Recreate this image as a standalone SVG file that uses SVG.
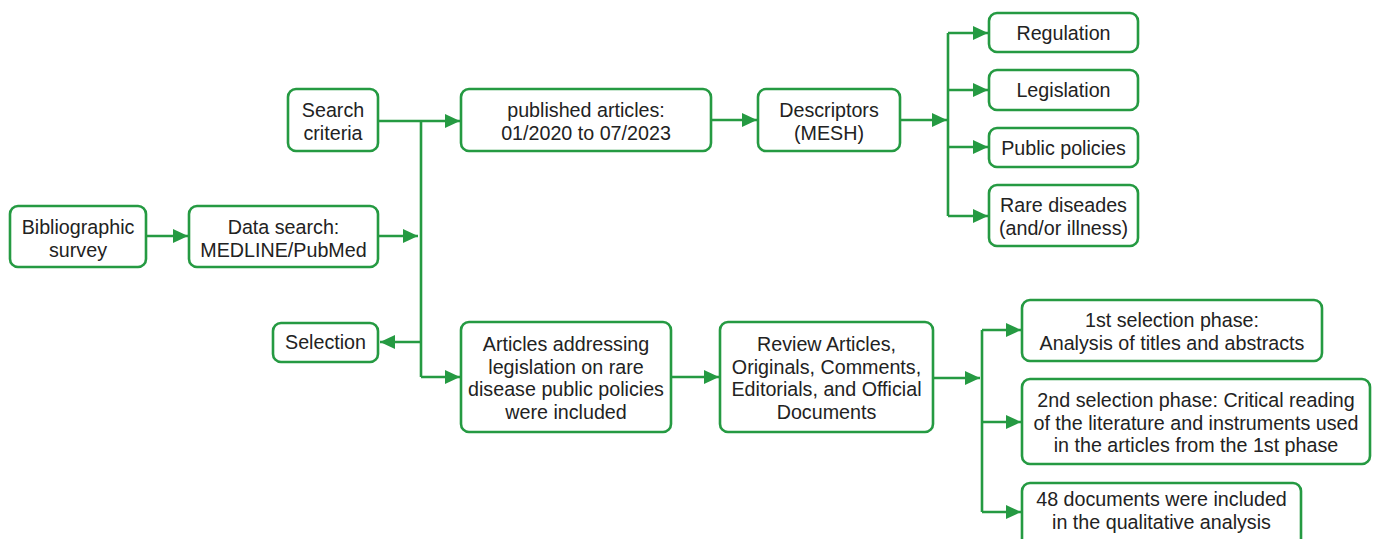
<svg xmlns="http://www.w3.org/2000/svg" width="1378" height="539" viewBox="0 0 1378 539">
<defs>
<marker id="ah" markerUnits="userSpaceOnUse" markerWidth="16" markerHeight="14" refX="15" refY="7" orient="auto">
<path d="M0,0 L15,7 L0,14 Z" fill="#259a42"/>
</marker>
<style>
.box{fill:#fff;stroke:#259a42;stroke-width:2.6}
.t{font-family:"Liberation Sans",Arial,sans-serif;font-size:19.7px;fill:#222;text-anchor:middle}
.c{fill:none;stroke:#259a42;stroke-width:2.6}
.a{fill:none;stroke:#259a42;stroke-width:2.6;marker-end:url(#ah)}
</style>
</defs>
<rect width="1378" height="539" fill="#fff"/>
<g id="connectors">
<path class="a" d="M146,236 H188"/>
<path class="a" d="M378,236 H418"/>
<path class="c" d="M378,121 H421"/>
<path class="c" d="M421,121 V377"/>
<path class="a" d="M421,121 H460"/>
<path class="a" d="M421,342 H380"/>
<path class="a" d="M421,377 H460"/>
<path class="a" d="M711,120 H757"/>
<path class="a" d="M900,120 H947"/>
<path class="c" d="M948,33 V216"/>
<path class="a" d="M948,33 H988"/>
<path class="a" d="M948,90 H988"/>
<path class="a" d="M948,147 H988"/>
<path class="a" d="M948,216 H988"/>
<path class="a" d="M671,377 H719"/>
<path class="a" d="M933,378 H980"/>
<path class="c" d="M982,330 V512"/>
<path class="a" d="M982,330 H1021"/>
<path class="a" d="M982,422 H1021"/>
<path class="a" d="M982,512 H1021"/>
</g>
<g id="n-biblio"><rect class="box" x="10" y="206" width="136" height="61" rx="8"/><text class="t" x="78" y="234">Bibliographic<tspan x="78" dy="23">survey</tspan></text></g>
<g id="n-datasearch"><rect class="box" x="189" y="206" width="189" height="61" rx="8"/><text class="t" x="283.5" y="234">Data search:<tspan x="283.5" dy="23">MEDLINE/PubMed</tspan></text></g>
<g id="n-criteria"><rect class="box" x="288" y="89" width="90" height="62" rx="8"/><text class="t" x="333" y="117">Search<tspan x="333" dy="22.5">criteria</tspan></text></g>
<g id="n-selection"><rect class="box" x="273" y="323" width="105" height="39" rx="8"/><text class="t" x="325.5" y="349">Selection</text></g>
<g id="n-published"><rect class="box" x="461" y="89" width="250" height="62" rx="8"/><text class="t" x="586" y="117">published articles:<tspan x="586" dy="23">01/2020 to 07/2023</tspan></text></g>
<g id="n-descriptors"><rect class="box" x="758" y="89" width="142" height="62" rx="8"/><text class="t" x="829" y="117">Descriptors<tspan x="829" dy="23">(MESH)</tspan></text></g>
<g id="n-regulation"><rect class="box" x="989" y="13" width="149" height="39" rx="8"/><text class="t" x="1063.5" y="40">Regulation</text></g>
<g id="n-legislation"><rect class="box" x="989" y="70" width="149" height="40" rx="8"/><text class="t" x="1063.5" y="97">Legislation</text></g>
<g id="n-public"><rect class="box" x="989" y="128" width="149" height="39" rx="8"/><text class="t" x="1063.5" y="155">Public policies</text></g>
<g id="n-rare"><rect class="box" x="989" y="185" width="149" height="61" rx="8"/><text class="t" x="1063.5" y="212">Rare diseades<tspan x="1063.5" dy="23">(and/or illness)</tspan></text></g>
<g id="n-articles"><rect class="box" x="461" y="322" width="210" height="110" rx="8"/><text class="t" x="566" y="351">Articles addressing<tspan x="566" dy="22.7">legislation on rare</tspan><tspan x="566" dy="22.7">disease public policies</tspan><tspan x="566" dy="22.7">were included</tspan></text></g>
<g id="n-review"><rect class="box" x="720" y="322" width="213" height="110" rx="8"/><text class="t" x="826.5" y="351">Review Articles,<tspan x="826.5" dy="22.7">Originals, Comments,</tspan><tspan x="826.5" dy="22.7">Editorials, and Official</tspan><tspan x="826.5" dy="22.7">Documents</tspan></text></g>
<g id="n-phase1"><rect class="box" x="1022" y="300" width="300" height="61" rx="8"/><text class="t" x="1172" y="327">1st selection phase:<tspan x="1172" dy="22.5">Analysis of titles and abstracts</tspan></text></g>
<g id="n-phase2"><rect class="box" x="1022" y="379" width="348" height="85" rx="8"/><text class="t" x="1196" y="407">2nd selection phase: Critical reading<tspan x="1196" dy="22.5">of the literature and instruments used</tspan><tspan x="1196" dy="22.5">in the articles from the 1st phase</tspan></text></g>
<g id="n-included"><rect class="box" x="1022" y="483" width="279" height="70" rx="8"/><text class="t" x="1161.5" y="506">48 documents were included<tspan x="1161.5" dy="23">in the qualitative analysis</tspan></text></g>
</svg>
